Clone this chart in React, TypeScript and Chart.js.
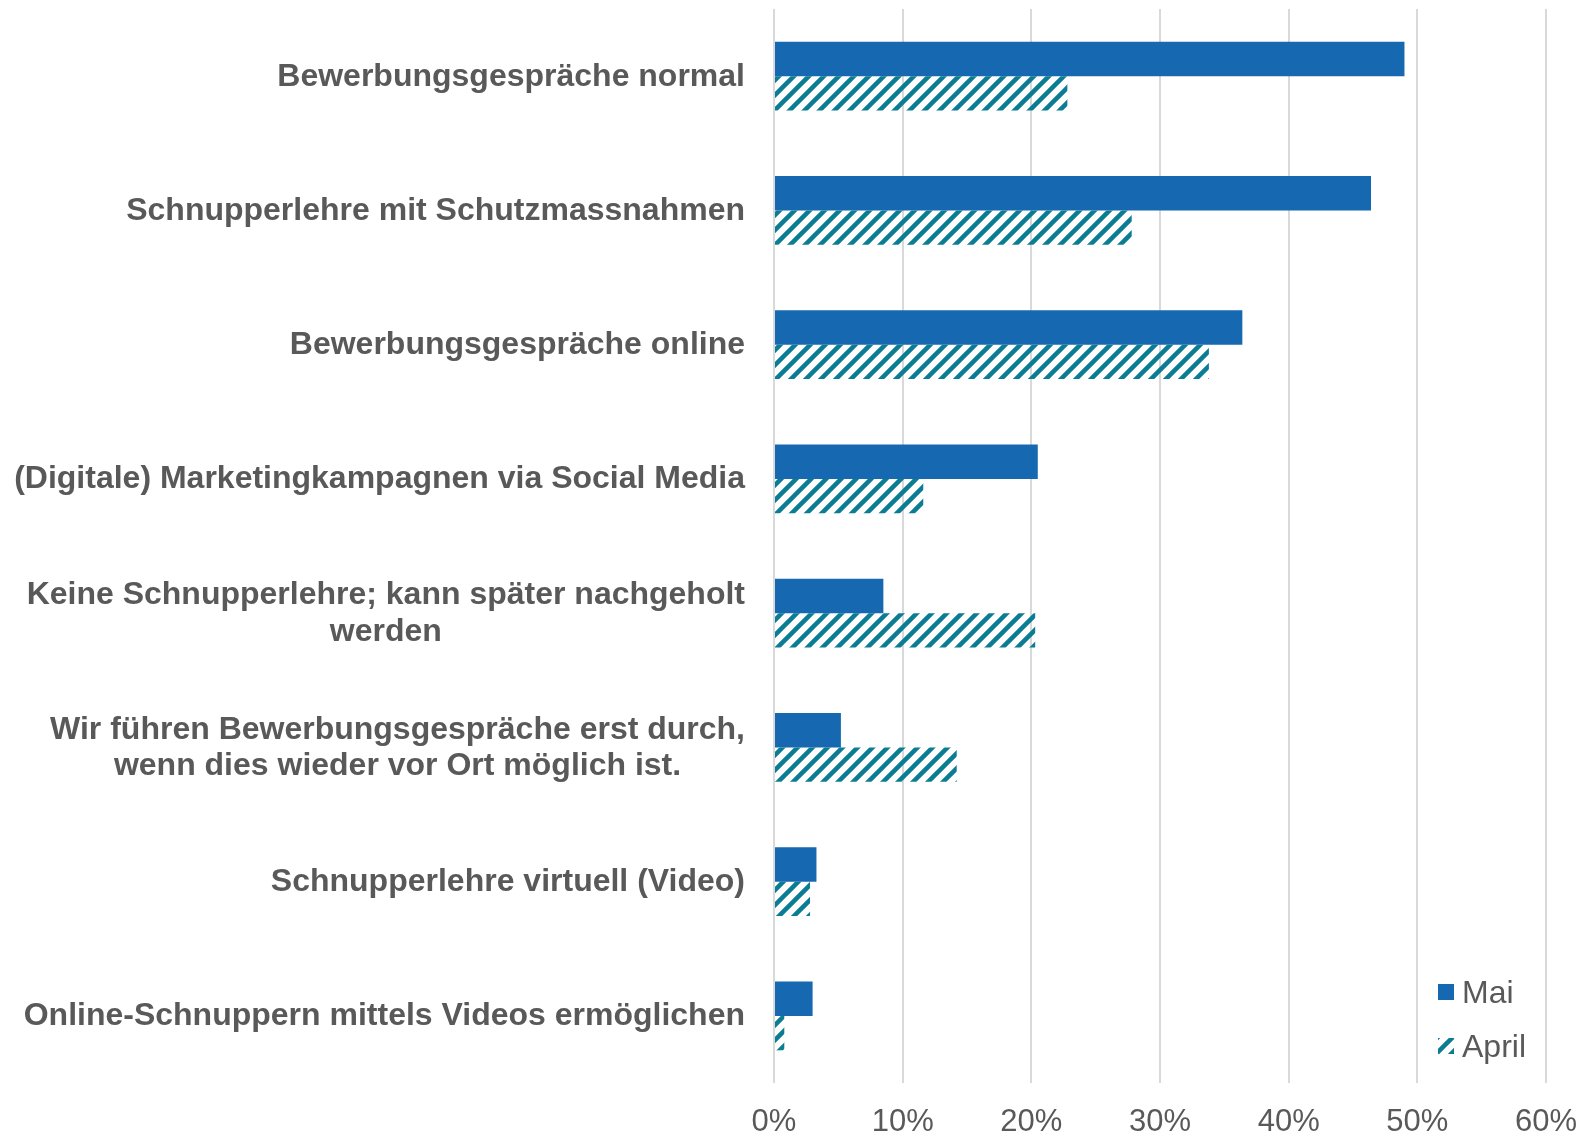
import React, { useEffect, useRef } from "react";
import { Chart, registerables } from "chart.js";

Chart.register(...registerables);

const categories: string[][] = [
  ["Bewerbungsgespräche normal"],
  ["Schnupperlehre mit Schutzmassnahmen"],
  ["Bewerbungsgespräche online"],
  ["(Digitale) Marketingkampagnen via Social Media"],
  ["Keine Schnupperlehre; kann später nachgeholt", "werden"],
  ["Wir führen Bewerbungsgespräche erst durch,", "wenn dies wieder vor Ort möglich ist."],
  ["Schnupperlehre virtuell (Video)"],
  ["Online-Schnuppern mittels Videos ermöglichen"],
];

const seriesNames = ["Mai", "April"];
const maiValues = [49.0, 46.4, 36.4, 20.5, 8.5, 5.2, 3.3, 3.0];
const aprilValues = [22.8, 27.8, 33.8, 11.6, 20.3, 14.2, 2.8, 0.8];
const xTickValues = [0, 10, 20, 30, 40, 50, 60];

const FONT = '"Liberation Sans", Arial, sans-serif';
const TEXT = "#595959";
const BLUE = "#1668B0";
const TEAL = "#0A7D95";

function makeHatch(color: string): CanvasPattern | string {
  const size = 15;
  const c = document.createElement("canvas");
  c.width = size;
  c.height = size;
  const x = c.getContext("2d");
  if (!x) return color;
  x.strokeStyle = color;
  x.lineWidth = 4.5;
  x.beginPath();
  for (const k of [-1, 0, 1]) {
    x.moveTo(k * size - 3, size + 3);
    x.lineTo(k * size + size + 3, -3);
  }
  x.stroke();
  const p = x.createPattern(c, "repeat");
  return p || color;
}

export default function App() {
  const ref = useRef<HTMLCanvasElement | null>(null);

  useEffect(() => {
    const canvas = ref.current;
    if (!canvas) return;
    const hatch = makeHatch(TEAL);

    const labelPlugin = {
      id: "catLabels",
      afterDraw(chart: any) {
        const ctx = chart.ctx;
        const yScale = chart.scales.y;
        ctx.save();
        ctx.font = `bold 32px ${FONT}`;
        ctx.fillStyle = TEXT;
        ctx.textBaseline = "alphabetic";
        ctx.textAlign = "center";
        const rightEdge = chart.chartArea.left - 29;
        const lh = 36.5;
        categories.forEach((lines, i) => {
          const cy = yScale.getPixelForValue(i);
          const widths = lines.map((l) => ctx.measureText(l).width);
          const maxW = Math.max(...widths);
          const cx = rightEdge - maxW / 2;
          const n = lines.length;
          lines.forEach((l, j) => {
            const by = cy + 9.5 + (j - (n - 1) / 2) * lh;
            ctx.fillText(l, cx, by);
          });
        });
        ctx.restore();
      },
    };

    const legendPlugin = {
      id: "innerLegend",
      afterDraw(chart: any) {
        const ctx = chart.ctx;
        const area = chart.chartArea;
        ctx.save();
        ctx.font = `32px ${FONT}`;
        ctx.fillStyle = TEXT;
        ctx.textBaseline = "alphabetic";
        ctx.textAlign = "left";
        const bx = area.right - 108;
        const tops = [area.bottom - 99, area.bottom - 45];
        chart.data.datasets.forEach((ds: any, i: number) => {
          const top = tops[i];
          ctx.fillStyle = ds.backgroundColor;
          ctx.fillRect(bx, top, 16, 16);
          ctx.fillStyle = TEXT;
          ctx.fillText(ds.label, bx + 24, top + 19);
        });
        ctx.restore();
      },
    };

    const chart = new Chart(canvas, {
      type: "bar",
      data: {
        labels: categories.map((c) => c.join(" ")),
        datasets: [
          {
            label: seriesNames[0],
            data: maiValues,
            backgroundColor: BLUE,
            borderWidth: 0,
            categoryPercentage: 0.513,
            barPercentage: 1,
          },
          {
            label: seriesNames[1],
            data: aprilValues,
            backgroundColor: hatch as any,
            borderWidth: 0,
            categoryPercentage: 0.513,
            barPercentage: 1,
          },
        ],
      },
      options: {
        indexAxis: "y",
        responsive: false,
        animation: false,
        layout: { padding: { top: 9, right: 39, left: 0, bottom: 0 } },
        plugins: {
          legend: { display: false },
          tooltip: { enabled: false },
        },
        scales: {
          x: {
            type: "linear",
            min: 0,
            max: 60,
            afterBuildTicks(scale: any) {
              scale.ticks = xTickValues.map((v) => ({ value: v }));
            },
            afterFit(scale: any) {
              scale.height = 53;
              scale.paddingLeft = 0;
              scale.paddingRight = 0;
            },
            grid: {
              color: "#D9D9D9",
              lineWidth: 2,
              drawTicks: false,
            },
            border: { display: false },
            ticks: {
              padding: 21,
              color: TEXT,
              font: { family: FONT, size: 31 },
              callback: (v: any) => `${v}%`,
            },
          },
          y: {
            type: "category",
            afterFit(scale: any) {
              scale.width = 774;
            },
            grid: { display: false, drawTicks: false },
            border: { display: false },
            ticks: { display: false },
          },
        },
      },
      plugins: [labelPlugin, legendPlugin],
    });

    return () => chart.destroy();
  }, []);

  return (
    <canvas
      ref={ref}
      width={1585}
      height={1136}
      style={{ position: "absolute", left: 0, top: 0, width: 1585, height: 1136, display: "block" }}
    />
  );
}
